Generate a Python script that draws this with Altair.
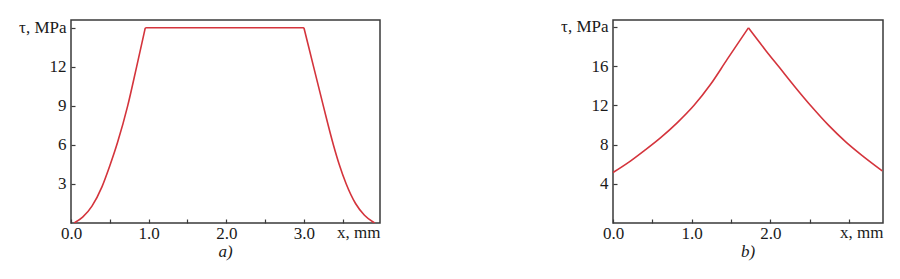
import altair as alt
import pandas as pd

# Panel a) data
a_x = [0.04, 0.15, 0.27, 0.40, 0.50, 0.60, 0.73, 0.845, 0.957,
       3.0, 3.125, 3.25, 3.38, 3.455, 3.545, 3.665, 3.78, 3.91]
a_y = [0.0, 0.45, 1.3, 2.8, 4.4, 6.2, 9.0, 12.0, 15.0,
       15.0, 12.0, 9.0, 6.0, 4.5, 3.0, 1.5, 0.6, 0.0]

# Panel b) data
b_x = [0.0, 0.225, 0.394, 0.606, 0.818, 1.03, 1.24, 1.45, 1.72,
       1.94, 2.11, 2.32, 2.53, 2.74, 2.96, 3.17, 3.42]
b_y = [5.15, 6.34, 7.36, 8.71, 10.24, 12.0, 14.14, 16.68, 19.9,
       17.6, 15.9, 13.8, 11.8, 9.95, 8.25, 6.85, 5.32]

a_xticks = [0, 0.5, 1, 1.5, 2, 2.5, 3, 3.5]
a_yticks = [3, 6, 9, 12, 15]
b_xticks = [0, 0.5, 1, 1.5, 2, 2.5, 3]
b_yticks = [4, 8, 12, 16, 20]

FONT = "Liberation Serif"
RED = "#d4343c"
FRAME = "#3a3a3a"
TXT = "#1a1a1a"
FS = 17


def build_df(xs, ys, ranges):
    """ranges: list of (name, start, end) index ranges (inclusive) sharing corner points"""
    out = []
    for name, s, e in ranges:
        for i in range(s, e + 1):
            out.append({"x": xs[i], "y": ys[i], "seg": name})
    return pd.DataFrame(out)


df_a = build_df(a_x, a_y, [("rise", 0, 8), ("plateau", 8, 9), ("fall", 9, 17)])
df_b = build_df(b_x, b_y, [("rise", 0, 8), ("fall", 8, 16)])


def panel(df, xdom, ydom, xticks, yticks, ylab_val, xhide, w, h, caption):
    xlab = "datum.value % 1 == 0" + (f" && datum.value != {xhide}" if xhide is not None else "")
    return alt.Chart(df).mark_line(color=RED, strokeWidth=1.6, clip=True,
                                   interpolate="monotone").encode(
        x=alt.X("x:Q", scale=alt.Scale(domain=xdom, nice=False, zero=False),
                axis=alt.Axis(values=xticks, title="x, mm",
                              labelExpr=f"({xlab}) ? format(datum.value, '.1f') : ''",
                              titleX=w, titleY=18, titleAlign="right",
                              titleBaseline="alphabetic", titleAnchor="end",
                              labelPadding=2)),
        y=alt.Y("y:Q", scale=alt.Scale(domain=ydom, nice=False, zero=False),
                axis=alt.Axis(values=yticks, title=None,
                              labelExpr=f"datum.value == {ylab_val} ? 'τ, MPa' : datum.label",
                              labelPadding=5)),
        detail="seg:N",
        order=alt.Order("x:Q"),
    ).properties(
        width=w, height=h,
        title=alt.TitleParams(text=caption, orient="bottom", font=FONT, fontSize=FS,
                              fontStyle="italic", fontWeight="normal", color=TXT,
                              offset=3),
    )


ca = panel(df_a, [0, 3.98], [0, 15.6], a_xticks, a_yticks, 15, None, 309, 203, "a)")
cb = panel(df_b, [0, 3.43], [0, 20.7], b_xticks, b_yticks, 20, 3, 270, 203, "b)")

chart = alt.hconcat(ca, cb, spacing=178).properties(
    padding={"left": 17, "top": 17, "right": 5, "bottom": 5}
).configure(
    background="white"
).configure_view(
    stroke=FRAME, strokeWidth=1.5
).configure_axis(
    domain=False, grid=False, tickColor=FRAME, tickSize=4, tickWidth=1.2, offset=-4,
    labelFont=FONT, labelFontSize=FS, labelColor=TXT,
    titleFont=FONT, titleFontSize=FS, titleColor=TXT, titleFontWeight="normal",
    labelFlush=False, labelOverlap=False
)

chart.save("out.html", embed_options={"renderer": "svg", "actions": False})
